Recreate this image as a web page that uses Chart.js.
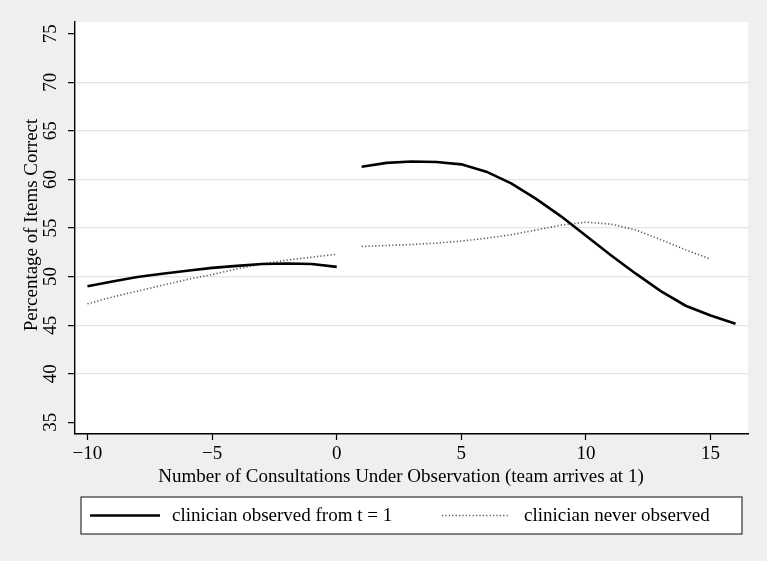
<!DOCTYPE html>
<html>
<head>
<meta charset="utf-8">
<script src="https://cdn.jsdelivr.net/npm/chart.js@4.4.1/dist/chart.umd.min.js"></script>
<style>
  html, body { margin: 0; padding: 0; background: #efefef; }
  #wrap { width: 767px; height: 561px; }
</style>
</head>
<body>
<div id="wrap"><canvas id="chart" width="767" height="561"></canvas></div>
<script>
// consultation index
const xPre = [-10, -9, -8, -7, -6, -5, -4, -3, -2, -1, 0];
const xPostObserved = [1, 2, 3, 4, 5, 6, 7, 8, 9, 10, 11, 12, 13, 14, 15, 16];
const xPostNever = [1, 2, 3, 4, 5, 6, 7, 8, 9, 10, 11, 12, 13, 14, 15];

// percentage of items correct
const observedPre = [49.0, 49.5, 49.95, 50.3, 50.6, 50.9, 51.1, 51.3, 51.35, 51.3, 51.0];
const observedPost = [61.3, 61.7, 61.85, 61.8, 61.55, 60.8, 59.6, 58.0, 56.2, 54.2, 52.2, 50.3, 48.5, 47.0, 46.0, 45.15];
const neverPre = [47.2, 47.9, 48.5, 49.1, 49.7, 50.2, 50.8, 51.3, 51.7, 52.0, 52.3];
const neverPost = [53.1, 53.2, 53.3, 53.45, 53.65, 53.95, 54.3, 54.8, 55.3, 55.6, 55.4, 54.8, 53.8, 52.75, 51.8];

const xTicks = [-10, -5, 0, 5, 10, 15];
const yTicks = [35, 40, 45, 50, 55, 60, 65, 70, 75];

const legendLabels = ['clinician observed from t = 1', 'clinician never observed'];
const xTitle = 'Number of Consultations Under Observation (team arrives at 1)';
const yTitle = 'Percentage of Items Correct';

const serif = '"Liberation Serif", "DejaVu Serif", serif';

function pts(xs, ys) {
  return xs.map((x, i) => ({ x: x, y: ys[i] }));
}

const solidStyle = { borderColor: '#000', borderWidth: 2.6, pointRadius: 0, tension: 0, fill: false };
const dotStyle = { borderColor: '#555', borderWidth: 1.6, borderDash: [1.2, 2.2], pointRadius: 0, tension: 0, fill: false };

function minusLabel(v) {
  return v < 0 ? '\u2212' + Math.abs(v) : String(v);
}

const stataPlugin = {
  id: 'stata',
  beforeDraw(chart) {
    const { ctx, chartArea } = chart;
    ctx.save();
    ctx.fillStyle = '#ffffff';
    ctx.fillRect(chartArea.left, chartArea.top, chartArea.right - chartArea.left, chartArea.bottom - chartArea.top);
    ctx.restore();
  },
  afterDraw(chart) {
    const { ctx, chartArea } = chart;
    const yScale = chart.scales.y;
    ctx.save();
    ctx.fillStyle = '#000';
    ctx.font = '19px ' + serif;
    ctx.textAlign = 'center';
    ctx.textBaseline = 'middle';

    // rotated y tick labels
    yTicks.forEach(v => {
      const py = yScale.getPixelForValue(v);
      ctx.save();
      ctx.translate(51, py);
      ctx.rotate(-Math.PI / 2);
      ctx.fillText(String(v), 0, 0);
      ctx.restore();
    });

    // y title
    ctx.save();
    ctx.translate(32, 225);
    ctx.rotate(-Math.PI / 2);
    ctx.fillText(yTitle, 0, 0);
    ctx.restore();

    // x title
    ctx.fillText(xTitle, 401, 477);

    // legend box
    const bx = 81, by = 497, bw = 661, bh = 37;
    ctx.fillStyle = '#fff';
    ctx.fillRect(bx, by, bw, bh);
    ctx.strokeStyle = '#333';
    ctx.lineWidth = 1.2;
    ctx.strokeRect(bx, by, bw, bh);

    const ly = by + bh / 2;
    ctx.beginPath();
    ctx.strokeStyle = solidStyle.borderColor;
    ctx.lineWidth = solidStyle.borderWidth;
    ctx.moveTo(90, ly);
    ctx.lineTo(160, ly);
    ctx.stroke();

    ctx.beginPath();
    ctx.strokeStyle = dotStyle.borderColor;
    ctx.lineWidth = dotStyle.borderWidth;
    ctx.setLineDash(dotStyle.borderDash);
    ctx.moveTo(442, ly);
    ctx.lineTo(510, ly);
    ctx.stroke();
    ctx.setLineDash([]);

    ctx.fillStyle = '#000';
    ctx.textAlign = 'left';
    ctx.fillText(legendLabels[0], 172, ly + 1);
    ctx.fillText(legendLabels[1], 524, ly + 1);
    ctx.restore();
  }
};

new Chart(document.getElementById('chart'), {
  type: 'line',
  data: {
    datasets: [
      Object.assign({ label: legendLabels[0], data: pts(xPre, observedPre) }, solidStyle),
      Object.assign({ label: legendLabels[0], data: pts(xPostObserved, observedPost) }, solidStyle),
      Object.assign({ label: legendLabels[1], data: pts(xPre, neverPre) }, dotStyle),
      Object.assign({ label: legendLabels[1], data: pts(xPostNever, neverPost) }, dotStyle)
    ]
  },
  options: {
    responsive: false,
    animation: false,
    layout: { padding: { top: 22, right: 19, left: 0, bottom: 0 } },
    plugins: { legend: { display: false }, tooltip: { enabled: false } },
    scales: {
      x: {
        type: 'linear',
        min: -10.5,
        max: 16.5,
        afterBuildTicks: s => { s.ticks = xTicks.map(v => ({ value: v })); },
        afterFit: s => { s.height = 127; },
        grid: { drawOnChartArea: false, color: 'rgba(0,0,0,0)', tickColor: '#000', tickLength: 6, tickWidth: 1.2 },
        border: { display: true, color: '#000', width: 1.4 },
        ticks: {
          color: '#000',
          font: { family: serif, size: 19 },
          padding: 3,
          maxRotation: 0,
          callback: v => minusLabel(v)
        }
      },
      y: {
        type: 'linear',
        min: 33.8,
        max: 76.2,
        afterBuildTicks: s => { s.ticks = yTicks.map(v => ({ value: v })); },
        afterFit: s => { s.width = 75; },
        grid: {
          color: c => (c.tick && (c.tick.value === 35 || c.tick.value === 75)) ? 'rgba(0,0,0,0)' : '#e4e4e4',
          lineWidth: 1.3,
          tickColor: '#000',
          tickLength: 7,
          tickWidth: 1.2
        },
        border: { display: true, color: '#000', width: 1.4 },
        ticks: { display: false }
      }
    }
  },
  plugins: [stataPlugin]
});
</script>
</body>
</html>
